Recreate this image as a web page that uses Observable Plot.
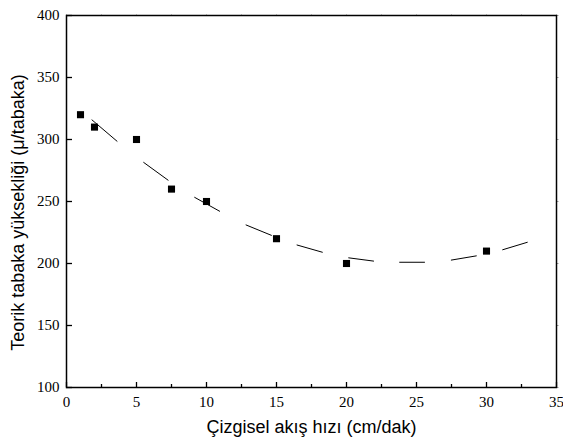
<!DOCTYPE html>
<html>
<head>
<meta charset="utf-8">
<script src="https://cdn.jsdelivr.net/npm/d3@7"></script>
<script src="https://cdn.jsdelivr.net/npm/@observablehq/plot@0.6"></script>
<style>
  html, body { margin: 0; padding: 0; background: #fff; }
</style>
</head>
<body>
<div id="chart"></div>
<script>
// Measured points
const flowX = [1, 2, 5, 7.5, 10, 15, 20, 30];
const plateH = [320, 310, 300, 260, 250, 220, 200, 210];

// Dashed fit curve: each dash's start and end
const dashX1 = [1.8, 5.49, 9.13, 12.8, 16.44, 20.13, 23.77, 27.46, 31.13];
const dashY1 = [316, 281.7, 253.5, 231.2, 215, 204.6, 201, 202.7, 211];
const dashX2 = [3.63, 7.28, 10.96, 14.66, 18.3, 21.96, 25.6, 29.3, 32.94];
const dashY2 = [298.4, 267, 242, 222.6, 209, 201.9, 201, 206.2, 217.2];

// Ticks
const xMajor = [0, 5, 10, 15, 20, 25, 30, 35];
const xMinor = [2.5, 7.5, 12.5, 17.5, 22.5, 27.5, 32.5];
const yMajor = [100, 150, 200, 250, 300, 350, 400];

const xTitle = "Çizgisel akış hızı (cm/dak)";
const yTitle = "Teorik tabaka yüksekliği (μ/tabaka)";

const points = flowX.map((x, i) => ({x, y: plateH[i]}));
const dashes = dashX1.map((x1, i) => ({x1, y1: dashY1[i], x2: dashX2[i], y2: dashY2[i]}));

const serif = "'Liberation Serif', 'Times New Roman', serif";
const sans = "'Liberation Sans', Arial, sans-serif";

const chart = Plot.plot({
  width: 563,
  height: 441,
  marginLeft: 66,
  marginRight: 7,
  marginTop: 15,
  marginBottom: 54,
  style: {fontFamily: serif, fontSize: "15px", color: "#000", background: "#fff"},
  x: {domain: [0, 35], label: null},
  y: {domain: [100, 400], label: null},
  marks: [
    // bottom axis: labels, major and minor inward ticks
    Plot.axisX(xMajor, {anchor: "bottom", tickSize: 0, tickPadding: 9, fontFamily: serif, fontSize: 15, label: null}),
    Plot.axisX(xMajor, {anchor: "bottom", tickSize: -5, fill: "none", strokeWidth: 1.3, label: null}),
    Plot.axisX(xMinor, {anchor: "bottom", tickSize: -3, fill: "none", strokeWidth: 1.3, label: null}),
    // top axis: tiny outward ticks
    Plot.axisX(xMajor.concat(xMinor), {anchor: "top", tickSize: 1.5, fill: "none", stroke: "#999", label: null}),
    // left axis
    Plot.axisY(yMajor, {anchor: "left", tickSize: 0, tickPadding: 7, fontFamily: serif, fontSize: 15, label: null}),
    Plot.axisY(yMajor, {anchor: "left", tickSize: -6, fill: "none", strokeWidth: 1.3, label: null}),
    // right axis: tiny outward ticks
    Plot.axisY(yMajor, {anchor: "right", tickSize: 1.5, fill: "none", stroke: "#999", label: null}),
    Plot.frame({stroke: "#000", strokeWidth: 1.5}),
    Plot.link(dashes, {x1: "x1", y1: "y1", x2: "x2", y2: "y2", stroke: "#000", strokeWidth: 1}),
    Plot.dot(points, {x: "x", y: "y", symbol: "square", r: 4, fill: "#000"}),
    Plot.text([xTitle], {text: d => d, frameAnchor: "bottom", dy: 40, fontFamily: sans, fontSize: 18, lineAnchor: "middle", textAnchor: "middle"}),
    Plot.text([yTitle], {text: d => d, frameAnchor: "left", dx: -48, dy: 11, rotate: -90, fontFamily: sans, fontSize: 18, lineAnchor: "middle", textAnchor: "middle"})
  ]
});
document.getElementById("chart").appendChild(chart);
</script>
</body>
</html>
